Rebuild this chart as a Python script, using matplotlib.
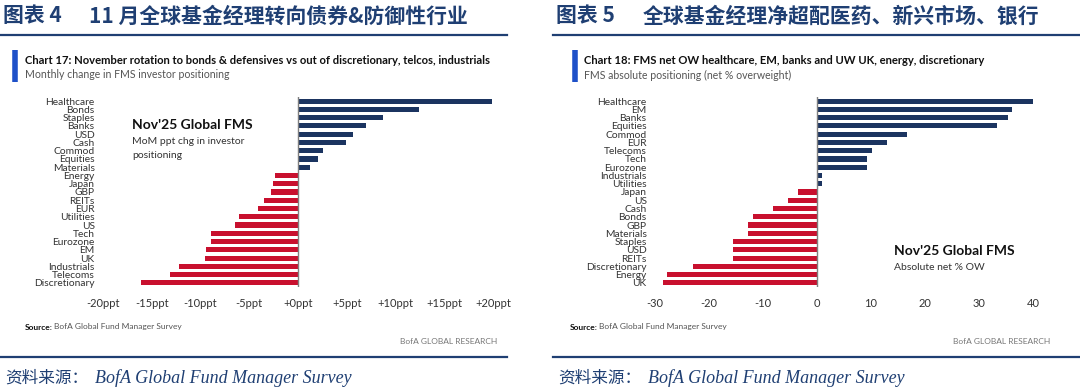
import matplotlib
matplotlib.use('Agg')
import matplotlib.pyplot as plt

W, H = 1080, 392

# left panel: monthly change in positioning (ppt)
chg_cats = ['Healthcare', 'Bonds', 'Staples', 'Banks', 'USD', 'Cash', 'Commod',
            'Equities', 'Materials', 'Energy', 'Japan', 'GBP', 'REITs', 'EUR',
            'Utilities', 'US', 'Tech', 'Eurozone', 'EM', 'UK', 'Industrials',
            'Telecoms', 'Discretionary']
chg_vals = [19.9, 12.4, 8.7, 7.0, 5.6, 4.9, 2.6, 2.0, 1.2, -2.4, -2.6, -2.8,
            -3.5, -4.1, -6.1, -6.5, -8.9, -8.9, -9.4, -9.5, -12.2, -13.1, -16.1]
chg_ticks = [-20, -15, -10, -5, 0, 5, 10, 15, 20]

# right panel: absolute positioning (net % OW)
abs_cats = ['Healthcare', 'EM', 'Banks', 'Equities', 'Commod', 'EUR', 'Telecoms',
            'Tech', 'Eurozone', 'Industrials', 'Utilities', 'Japan', 'US', 'Cash',
            'Bonds', 'GBP', 'Materials', 'Staples', 'USD', 'REITs',
            'Discretionary', 'Energy', 'UK']
abs_vals = [40, 36.2, 35.3, 33.4, 16.7, 13.0, 10.2, 9.3, 9.3, 1.0, 1.0, -3.5,
            -5.4, -8.1, -11.8, -12.7, -12.7, -15.5, -15.5, -15.5, -23.0, -27.7, -28.6]
abs_ticks = [-30, -20, -10, 0, 10, 20, 30, 40]

NAVY = '#1b3460'
RED = '#c8102e'
HEAD = '#1f3f73'
CJK = ['Noto Sans CJK SC', 'DejaVu Sans']
SANS = 'Lato'

fig = plt.figure(figsize=(W / 100, H / 100), dpi=100)


def fx(x):
  return x / W


def fy(y):
  return 1 - y / H


def add_ax(x0, x1, y0, y1):
  return fig.add_axes([fx(x0), fy(y1), fx(x1 - x0), (y1 - y0) / H])


def bar_panel(ax, cats, vals, xlim, ticks, fmt):
  n = len(cats)
  pos = list(range(n))
  colors = [NAVY if v >= 0 else RED for v in vals]
  ax.barh(pos, vals, height=0.62, color=colors)
  ax.set_ylim(n - 0.5, -0.5)
  ax.set_xlim(*xlim)
  ax.axvline(0, color='#7f7f7f', lw=1)
  ax.set_yticks(pos)
  ax.set_yticklabels(cats, fontsize=7.4, family=SANS, color='#333333')
  ax.set_xticks(ticks)
  ax.set_xticklabels([fmt(t) for t in ticks], fontsize=8, family=SANS, color='#333333')
  ax.tick_params(length=0, axis='y', pad=6)
  ax.tick_params(length=0, axis='x', pad=8)
  for s in ax.spines.values():
    s.set_visible(False)
  ax.patch.set_alpha(0)


def ppt(t):
  return f'{t:+d}ppt' if t != 0 else '+0ppt'


ax1 = add_ax(103, 493, 97, 287)
bar_panel(ax1, chg_cats, chg_vals, (-20, 20), chg_ticks, ppt)

ax2 = add_ax(655, 1033, 97, 287)
bar_panel(ax2, abs_cats, abs_vals, (-30, 40), abs_ticks, lambda t: f'{t}')

# headers, chart titles and footers for each panel
panels = [
  dict(x0=0, x1=507, hx=3, gap=86, tx=25, bx=13, sx=25, rx=497,
       num='图表 4', head='11 月全球基金经理转向债券&防御性行业',
       title='Chart 17: November rotation to bonds & defensives vs out of discretionary, telcos, industrials',
       sub='Monthly change in FMS investor positioning'),
  dict(x0=553, x1=1080, hx=556, gap=87, tx=584, bx=573, sx=570, rx=1050,
       num='图表 5', head='全球基金经理净超配医药、新兴市场、银行',
       title='Chart 18: FMS net OW healthcare, EM, banks and UW UK, energy, discretionary',
       sub='FMS absolute positioning (net % overweight)'),
]

for p in panels:
  fig.text(fx(p['hx']), fy(16), p['num'], family=CJK, fontsize=15,
           fontweight='bold', color=HEAD, va='center')
  fig.text(fx(p['hx'] + p['gap']), fy(16), p['head'], family=CJK, fontsize=15,
           fontweight='bold', color=HEAD, va='center')
  fig.add_artist(plt.Line2D([fx(p['x0']), fx(p['x1'])], [fy(35), fy(35)],
                            color=HEAD, lw=1.6))
  fig.add_artist(plt.Line2D([fx(p['bx'] + 2), fx(p['bx'] + 2)], [fy(50), fy(82)],
                            color='#1e50c8', lw=4, solid_capstyle='butt'))
  fig.text(fx(p['tx']), fy(61), p['title'], family=SANS, fontsize=8.1,
           fontweight='bold', color='#111111', va='center')
  fig.text(fx(p['tx']), fy(75), p['sub'], family=SANS, fontsize=7.6,
           color='#555555', va='center')
  fig.text(fx(p['sx']), fy(327), 'Source:', family=SANS, fontsize=6,
           fontweight='bold', color='#111111', va='center')
  fig.text(fx(p['sx'] + 29), fy(327), 'BofA Global Fund Manager Survey', family=SANS,
           fontsize=6, color='#555555', va='center')
  fig.text(fx(p['rx']), fy(341), 'BofA GLOBAL RESEARCH', family=SANS, fontsize=6,
           color='#777777', va='center', ha='right')
  fig.add_artist(plt.Line2D([fx(p['x0']), fx(p['x1'])], [fy(357), fy(357)],
                            color=HEAD, lw=1.6))
  fig.text(fx(p['hx'] + 2), fy(378), '资料来源：', family=CJK, fontsize=12,
           color=HEAD, va='center')
  fig.text(fx(p['hx'] + 92), fy(378), 'BofA Global Fund Manager Survey',
           family='Liberation Serif', style='italic', fontsize=13,
           color=HEAD, va='center')

# in-chart annotations
fig.text(fx(132), fy(125), "Nov'25 Global FMS", family=SANS, fontsize=10,
         fontweight='bold', color='#111111', va='center')
fig.text(fx(132), fy(142), 'MoM ppt chg in investor', family=SANS, fontsize=7.5,
         color='#333333', va='center')
fig.text(fx(132), fy(155), 'positioning', family=SANS, fontsize=7.5,
         color='#333333', va='center')
fig.text(fx(894), fy(251), "Nov'25 Global FMS", family=SANS, fontsize=10,
         fontweight='bold', color='#111111', va='center')
fig.text(fx(894), fy(267), 'Absolute net % OW', family=SANS, fontsize=7.5,
         color='#333333', va='center')

fig.savefig('out.png', dpi=100, facecolor='white')
